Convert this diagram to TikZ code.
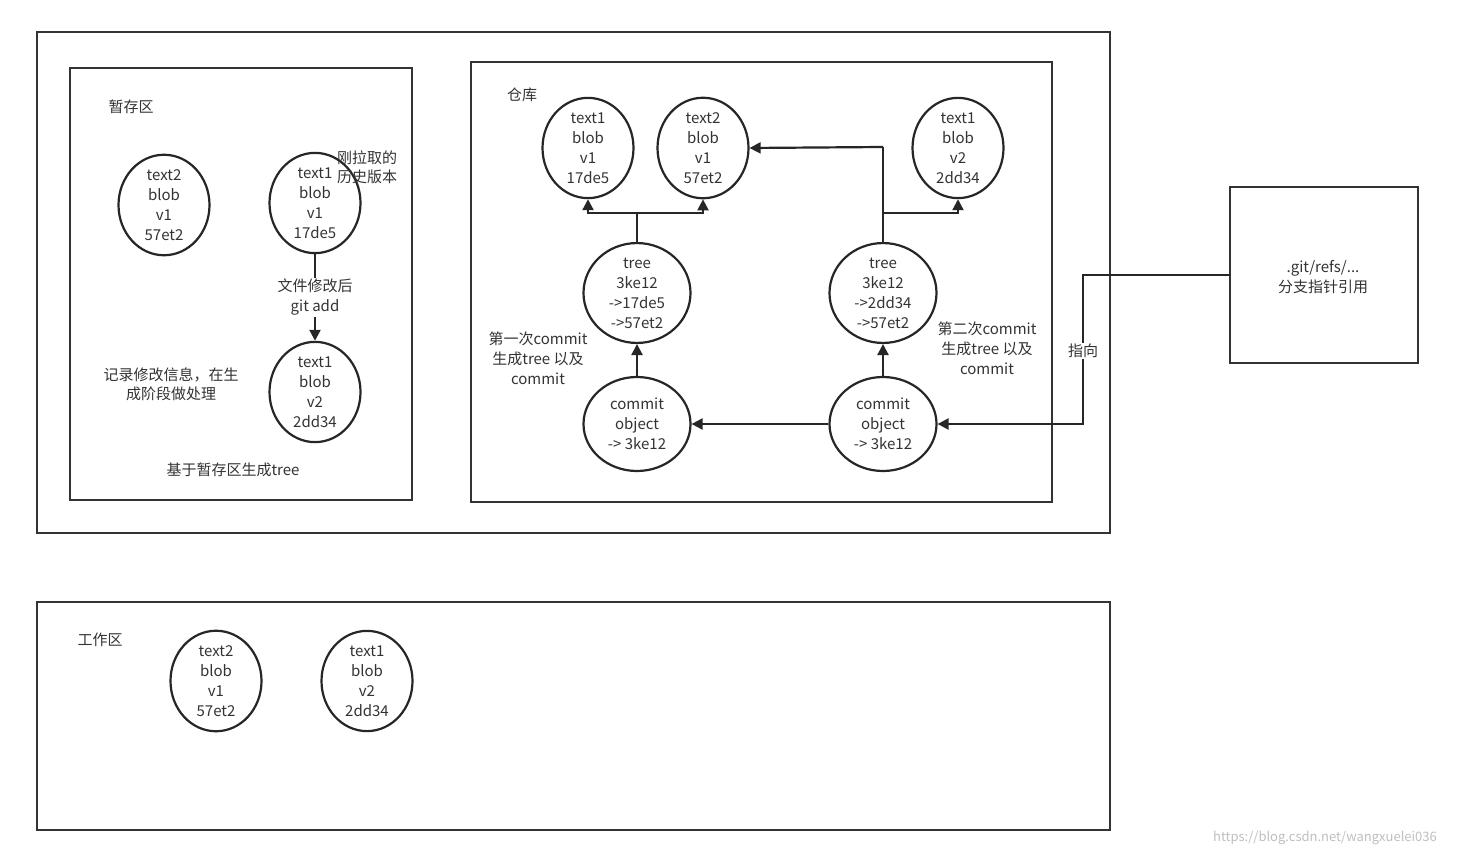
\documentclass[tikz,border=0pt]{standalone}
\usepackage{fontspec}
\setmainfont{Noto Sans CJK SC}
\usetikzlibrary{arrows.meta,shapes.geometric}
\begin{document}
\begin{tikzpicture}[x=1pt,y=-1pt,
  box/.style={draw=black!80,line width=2.2pt},
  obj/.style={draw=black!85,line width=2.2pt,ellipse,minimum width=91pt,minimum height=90pt,inner sep=0pt,align=center,font=\fontsize{15}{20}\selectfont,text=black!80},
  big/.style={obj,minimum width=107pt,minimum height=94pt},
  lbl/.style={align=center,font=\fontsize{15}{20}\selectfont,text=black!80},
  con/.style={draw=black!85,line width=2.2pt},
  arr/.style={con,-{Triangle[length=11pt,width=11pt]}}]
\useasboundingbox (0,0) rectangle (1461,858);
\fill[white] (0,0) rectangle (1461,858);
\draw[box] (37,32) rectangle (1110,533);
\draw[box] (70,68) rectangle (412,500);
\draw[box] (471,62) rectangle (1052,502);
\draw[box] (1230,187) rectangle (1418,363);
\draw[box] (37,602) rectangle (1110,830);
% staging
\node[obj] (s1) at (164,205) {text2\\blob\\v1\\57et2};
\node[obj] (s2) at (315,203) {text1\\blob\\v1\\17de5};
\node[obj] (s3) at (315,392) {text1\\blob\\v2\\2dd34};
% repo
\node[obj] (b1) at (588,148) {text1\\blob\\v1\\17de5};
\node[obj] (b2) at (703,148) {text2\\blob\\v1\\57et2};
\node[obj] (b3) at (958,148) {text1\\blob\\v2\\2dd34};
\node[big] (t1) at (637,293) {tree\\3ke12\\->17de5\\->57et2};
\node[big] (t2) at (883,293) {tree\\3ke12\\->2dd34\\->57et2};
\node[big] (c1) at (637,424) {commit\\object\\-> 3ke12};
\node[big] (c2) at (883,424) {commit\\object\\-> 3ke12};
% work
\node[obj] (w1) at (216,681) {text2\\blob\\v1\\57et2};
\node[obj] (w2) at (367,681) {text1\\blob\\v2\\2dd34};
% right box
\node[lbl] (ref) at (1323,277) {.git/refs/...\\分支指针引用};
\coordinate (rw) at (1230,275);
\coordinate (j1) at (637,213);
\coordinate (j2) at (883,213);
\coordinate (j3) at (883,147);
\coordinate (k1) at (1083,275);
\coordinate (k2) at (1083,424);
% connectors
\draw[arr] (s2) -- (s3) node[midway,fill=white,lbl,inner sep=1pt] {文件修改后\\git add};
\draw[con] (t1) -- (j1);
\draw[arr] (j1) -| (b1.south);
\draw[arr] (j1) -| (b2.south);
\draw[con] (t2) -- (j3);
\draw[arr] (j3) -- (b2.east);
\draw[arr] (j2) -| (b3.south);
\draw[arr] (c1) -- (t1);
\draw[arr] (c2) -- (t2);
\draw[arr] (c2) -- (c1);
\draw[arr] (rw) -- (k1) -- (k2) -- (c2.east);
\node[lbl,fill=white,inner sep=1pt] at (1083,351) {指向};
% labels
\node[lbl] at (131,107) {暂存区};
\node[lbl,font=\fontsize{15}{19}\selectfont] at (367,167) {刚拉取的\\历史版本};
\node[lbl,font=\fontsize{15}{19}\selectfont] at (171,384) {记录修改信息，在生\\成阶段做处理};
\node[lbl] at (233,470) {基于暂存区生成tree};
\node[lbl] at (522,95) {仓库};
\node[lbl] at (538,358) {第一次commit\\生成tree 以及\\commit};
\node[lbl] at (987,348) {第二次commit\\生成tree 以及\\commit};
\node[lbl] at (100,640) {工作区};
\node[lbl,text=black!25,font=\fontsize{13}{15}\selectfont] at (1325,838) {https://blog.csdn.net/wangxuelei036};
\end{tikzpicture}
\end{document}
